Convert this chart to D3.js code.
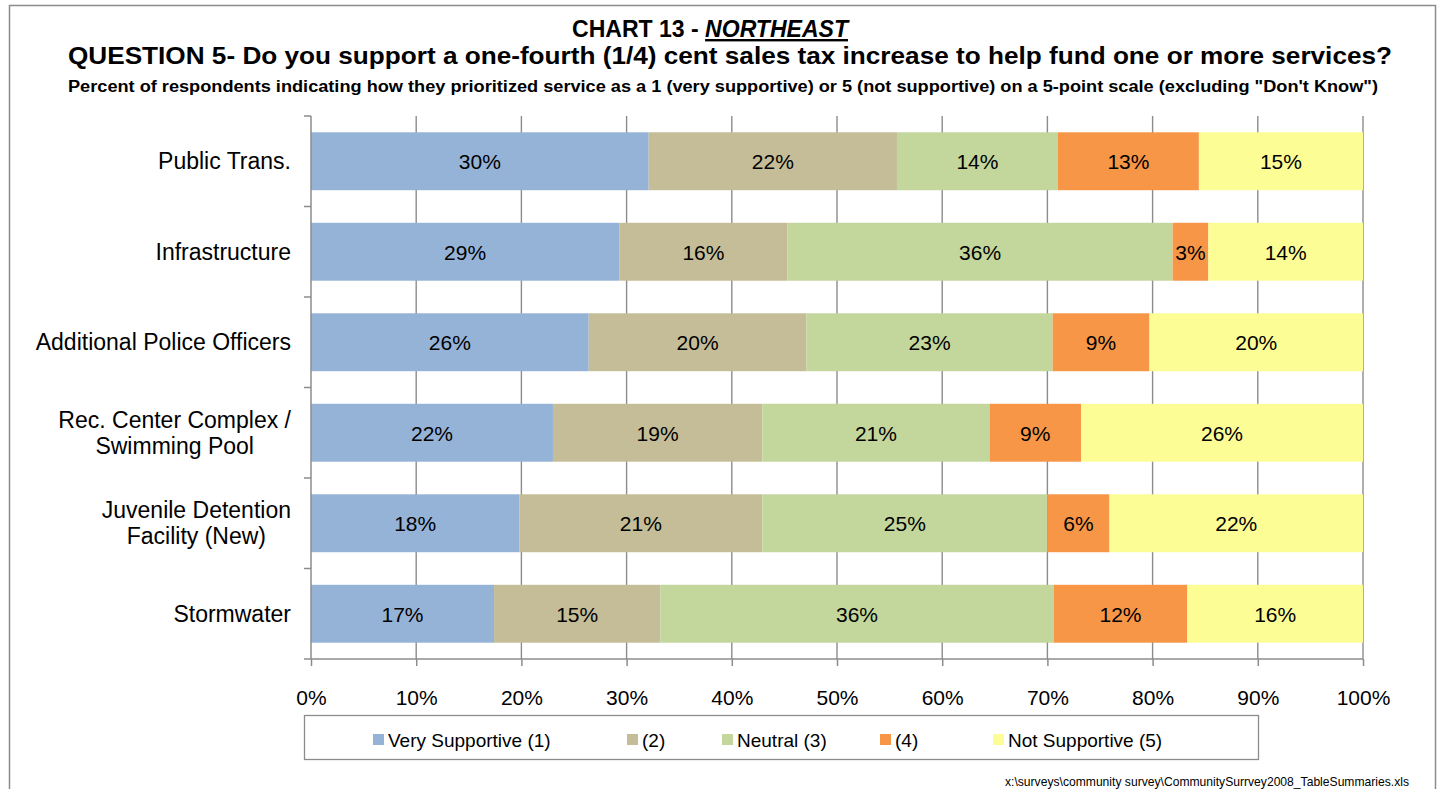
<!DOCTYPE html>
<html>
<head>
<meta charset="utf-8">
<script src="https://cdn.jsdelivr.net/npm/d3@7"></script>
<style>
body { margin: 0; background: #fff; }
.lbl { font-family: "Liberation Sans", Arial, sans-serif; fill: #000; }
.ttl { font-family: "Liberation Sans", Arial, sans-serif; font-weight: bold; fill: #000; }
</style>
</head>
<body>
<div id="chart"></div>
<script>
var categories = ["Public Trans.", "Infrastructure", "Additional Police Officers", "Rec. Center Complex / Swimming Pool", "Juvenile Detention Facility (New)", "Stormwater"],
	catLines = [["Public Trans."], ["Infrastructure"], ["Additional Police Officers"], ["Rec. Center Complex /", "Swimming Pool"], ["Juvenile Detention", "Facility (New)"], ["Stormwater"]],
	series = ["Very Supportive (1)", "(2)", "Neutral (3)", "(4)", "Not Supportive (5)"],
	colors = ["#95b3d7", "#c4bd97", "#c3d69b", "#f79646", "#fdfd96"],
	// printed labels (percent of all respondents)
	labels = [
		[30, 22, 14, 13, 15],
		[29, 16, 36, 3, 14],
		[26, 20, 23, 9, 20],
		[22, 19, 21, 9, 26],
		[18, 21, 25, 6, 22],
		[17, 15, 36, 12, 16]
	],
	// bar shares as drawn (excluding "Don't Know")
	shares = [
		[32.1, 23.6, 15.3, 13.4, 15.6],
		[29.3, 16.0, 36.6, 3.4, 14.7],
		[26.4, 20.7, 23.4, 9.2, 20.3],
		[23.0, 19.9, 21.6, 8.7, 26.8],
		[19.8, 23.1, 27.1, 5.9, 24.1],
		[17.4, 15.8, 37.4, 12.7, 16.7]
	],
	ticks = [0, 0.1, 0.2, 0.3, 0.4, 0.5, 0.6, 0.7, 0.8, 0.9, 1];

var W = 1441, H = 789;
var svg = d3.select("#chart").append("svg").attr("width", W).attr("height", H);

// outer frame
svg.append("rect").attr("x", 9.5).attr("y", 5.5).attr("width", 1426).attr("height", 800)
	.attr("fill", "none").attr("stroke", "#8c8c8c").attr("stroke-width", 1.5);

// titles
svg.append("text").attr("class", "ttl").attr("x", 710).attr("y", 37).attr("text-anchor", "middle")
	.style("font-size", "24px")
	.attr("textLength", 276).attr("lengthAdjust", "spacingAndGlyphs")
	.html('CHART 13 - <tspan font-style="italic" text-decoration="underline">NORTHEAST</tspan>');
svg.append("text").attr("class", "ttl").attr("x", 730).attr("y", 64).attr("text-anchor", "middle")
	.style("font-size", "24px")
	.attr("textLength", 1324).attr("lengthAdjust", "spacingAndGlyphs")
	.text("QUESTION 5- Do you support a one-fourth (1/4) cent sales tax increase to help fund one or more services?");
svg.append("text").attr("class", "ttl").attr("x", 723).attr("y", 92).attr("text-anchor", "middle")
	.style("font-size", "16px")
	.attr("textLength", 1310).attr("lengthAdjust", "spacingAndGlyphs")
	.text("Percent of respondents  indicating  how they prioritized  service as a 1 (very supportive)  or 5 (not supportive)  on a 5-point scale (excluding \"Don't Know\")");

var x = d3.scaleLinear().domain([0, 100]).range([311, 1363]);
var y = d3.scaleBand().domain(categories).range([116, 659]).paddingInner(0.36).paddingOuter(0.18);

// gridlines
svg.append("g").selectAll("line").data(ticks.slice(1)).enter().append("line")
	.attr("x1", function(d) { return x(d * 100); }).attr("x2", function(d) { return x(d * 100); })
	.attr("y1", 116).attr("y2", 659)
	.attr("stroke", "#8c8c8c").attr("stroke-width", 1.4);

// stacked bars
var rows = svg.append("g").selectAll("g").data(shares).enter().append("g");
rows.each(function(vals, i) {
	var total = d3.sum(vals), cum = 0;
	var segs = vals.map(function(v, j) {
		var s = { v: labels[i][j], j: j, x0: cum / total * 100, x1: (cum + v) / total * 100 };
		cum += v;
		return s;
	});
	var g = d3.select(this);
	var yy = y(categories[i]);
	g.selectAll("rect").data(segs).enter().append("rect")
		.attr("x", function(d) { return x(d.x0); })
		.attr("width", function(d) { return x(d.x1) - x(d.x0); })
		.attr("y", yy).attr("height", y.bandwidth())
		.attr("fill", function(d) { return colors[d.j]; });
	g.selectAll("text").data(segs).enter().append("text").attr("class", "lbl")
		.attr("x", function(d) { return (x(d.x0) + x(d.x1)) / 2; })
		.attr("y", yy + y.bandwidth() / 2 + 8)
		.attr("text-anchor", "middle").style("font-size", "21px")
		.text(function(d) { return d.v + "%"; });
});

// x axis
var xAxis = svg.append("g").attr("transform", "translate(0,659)")
	.call(d3.axisBottom(x).tickValues(ticks.map(function(t) { return t * 100; })).tickSize(7)
		.tickFormat(function(d) { return Math.round(d) + "%"; }));
xAxis.select(".domain").attr("stroke", "#8c8c8c").attr("stroke-width", 1.5).attr("d", "M311,0H1363");
xAxis.selectAll(".tick line").attr("stroke", "#8c8c8c").attr("stroke-width", 1.5);
xAxis.selectAll(".tick text").attr("class", "lbl").attr("dy", 0).attr("y", 46)
	.style("font-size", "21px").attr("fill", "#000");

// y axis line and ticks at band edges
var edges = d3.range(categories.length + 1).map(function(i) { return 116 + i * (543 / categories.length); });
svg.append("line").attr("x1", 311).attr("x2", 311).attr("y1", 116).attr("y2", 659)
	.attr("stroke", "#8c8c8c").attr("stroke-width", 1.5);
svg.append("g").selectAll("line").data(edges).enter().append("line")
	.attr("x1", 304).attr("x2", 311).attr("y1", function(d) { return d; }).attr("y2", function(d) { return d; })
	.attr("stroke", "#8c8c8c").attr("stroke-width", 1.5);

// category labels
catLines.forEach(function(lines, i) {
	var cy = y(categories[i]) + y.bandwidth() / 2;
	var t = svg.append("text").attr("class", "lbl").style("font-size", "23px").attr("text-anchor", "middle");
	lines.forEach(function(l, k) {
		t.append("tspan").attr("x", 0).attr("y", cy + 8 + (k - (lines.length - 1) / 2) * 26).text(l);
	});
	var maxW = 0;
	t.selectAll("tspan").each(function() { maxW = Math.max(maxW, this.getComputedTextLength()); });
	t.selectAll("tspan").attr("x", 291 - maxW / 2);
});

// legend
svg.append("rect").attr("x", 304.5).attr("y", 715.5).attr("width", 954).attr("height", 44)
	.attr("fill", "none").attr("stroke", "#8c8c8c").attr("stroke-width", 1.3);
var legX = [373, 627, 722, 880, 993];
var leg = svg.append("g").selectAll("g").data(series).enter().append("g")
	.attr("transform", function(d, i) { return "translate(" + legX[i] + ",735)"; });
leg.append("rect").attr("x", 0).attr("y", -1).attr("width", 11).attr("height", 11)
	.attr("fill", function(d, i) { return colors[i]; });
leg.append("text").attr("class", "lbl").attr("x", 15).attr("y", 12).style("font-size", "19px")
	.text(function(d) { return d; });

// footer
svg.append("text").attr("x", 1409).attr("y", 786).attr("text-anchor", "end")
	.style("font-family", "'Liberation Sans', sans-serif").style("font-size", "13px")
	.attr("textLength", 404).attr("lengthAdjust", "spacingAndGlyphs")
	.text("x:\\surveys\\community survey\\CommunitySurrvey2008_TableSummaries.xls");
</script>
</body>
</html>
